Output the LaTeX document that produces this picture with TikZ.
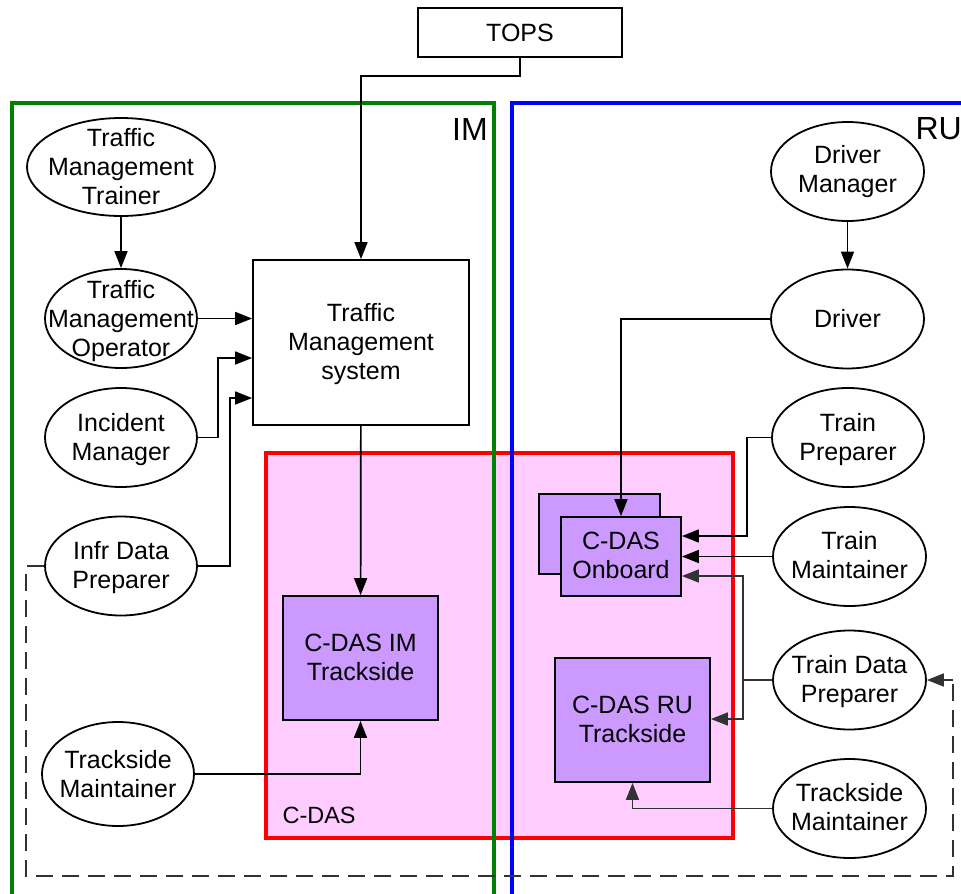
\documentclass[tikz,border=0pt]{standalone}
\usepackage{fontspec}
\setmainfont{Liberation Sans}
\usetikzlibrary{arrows.meta,shapes.geometric}
\definecolor{pinkfill}{RGB}{255,204,255}
\definecolor{purplefill}{RGB}{204,153,255}
\definecolor{imgreen}{RGB}{0,128,0}
\definecolor{darkline}{RGB}{50,50,50}
\tikzset{
  actor/.style={draw=black, line width=1.8pt, ellipse, minimum width=152pt, minimum height=99pt, inner sep=0pt, fill=white},
  txt/.style={align=center, inner sep=0pt},
  sysbox/.style={draw=black, line width=1.8pt, rectangle, inner sep=0pt, align=center},
  comp/.style={draw=black, line width=1.8pt, rectangle, inner sep=0pt, align=center, fill=purplefill},
  arr/.style={line width=1.7pt, -{Triangle[length=17pt,width=13pt]}},
  dashline/.style={line width=1.7pt, darkline, dash pattern=on 17pt off 9pt},
}
\begin{document}
\begin{tikzpicture}[x=1pt,y=-1pt,font=\fontsize{25}{29}\selectfont]
\useasboundingbox (0,0) rectangle (961,894);
\clip (0,0) rectangle (961,894);
\fill[white] (0,0) rectangle (961,894);
% C-DAS region
\draw[red, line width=3.5pt, fill=pinkfill] (266,453) rectangle (733,838);
\node[anchor=west, font=\fontsize{23.5}{27}\selectfont] (cdaslbl) at (279,815) {C-DAS};
% IM and RU regions
\draw[imgreen, line width=3.5pt] (12,910) -- (12,103) -- (494,103) -- (494,910);
\draw[blue, line width=3.5pt] (512,910) -- (512,103) -- (980,103);
\node[font=\fontsize{32}{36}\selectfont] (imlbl) at (470,129) {IM};
\node[anchor=west, font=\fontsize{32}{36}\selectfont] (rulbl) at (912,129) {RU};
% nodes
\node[sysbox, minimum width=204pt, minimum height=49pt] (tops) at (520,32.5) {TOPS};
\node[sysbox, minimum width=216pt, minimum height=165pt, fill=white] (tms) at (361,342.5) {};
\node[txt, yshift=-2pt] (tmstxt) at (tms.center) {Traffic\\Management\\system};
\node[actor, minimum width=188pt, minimum height=98pt] (tmt) at (121,167) {};
\node[txt] (tmttxt) at (tmt.center) {Traffic\\Management\\Trainer};
\node[actor] (tmo) at (121,318.5) {};
\node[txt, yshift=-3pt] (tmotxt) at (tmo.center) {Traffic\\Management\\Operator};
\node[actor] (im) at (121,437.5) {};
\node[txt, yshift=-2pt] (imtxt) at (im.center) {Incident\\Manager};
\node[actor] (idp) at (121,566) {};
\node[txt, yshift=-2pt] (idptxt) at (idp.center) {Infr Data\\Preparer};
\node[actor, minimum height=104pt] (tmim) at (118,774) {};
\node[txt] (tmimtxt) at (tmim.center) {Trackside\\Maintainer};
\node[comp, minimum width=155pt, minimum height=124pt] (cim) at (360.5,658) {};
\node[txt, yshift=1pt] (cimtxt) at (cim.center) {C-DAS IM\\Trackside};
\node[comp, minimum width=121pt, minimum height=80pt] (cobb) at (599.5,534) {};
\node[comp, minimum width=120pt, minimum height=79pt] (cob) at (621,556.5) {};
\node[txt, yshift=1pt] (cobtxt) at (cob.center) {C-DAS\\Onboard};
\node[comp, minimum width=155pt, minimum height=124pt] (cru) at (632.5,720) {};
\node[txt, yshift=1pt] (crutxt) at (cru.center) {C-DAS RU\\Trackside};
\node[actor, minimum width=153pt] (dm) at (847.5,171.5) {};
\node[txt] (dmtxt) at (dm.center) {Driver\\Manager};
\node[actor, minimum width=153pt] (drv) at (847.5,319) {};
\node[txt] (drvtxt) at (drv.center) {Driver};
\node[actor, minimum width=152pt] (tp) at (848,437.5) {};
\node[txt, yshift=-2pt] (tptxt) at (tp.center) {Train\\Preparer};
\node[actor, minimum width=153pt] (tm) at (849.5,556.5) {};
\node[txt, yshift=1pt] (tmtxt) at (tm.center) {Train\\Maintainer};
\node[actor, minimum width=153pt] (tdp) at (849.5,680) {};
\node[txt, yshift=-2pt] (tdptxt) at (tdp.center) {Train Data\\Preparer};
\node[actor, minimum width=153pt] (tmru) at (849.5,808.5) {};
\node[txt, yshift=1pt] (tmrutxt) at (tmru.center) {Trackside\\Maintainer};
% coordinates
\coordinate (t1) at (361,76);
\coordinate (b1) at (218,358);
\coordinate (b2) at (230,398);
\coordinate (b3) at (747,536);
\coordinate (b5) at (743,576);
\coordinate (b6) at (743,719);
\coordinate (d1) at (26,566);
\coordinate (d2) at (26,876);
\coordinate (d3) at (953,876);
\coordinate (d4) at (953,680);
% connectors
\draw[arr] (tops.south) |- (t1) -- (tms.north);
\draw[arr] (tmt) -- (tmo);
\draw[arr] (tmo.east) -- (tmo.east -| tms.west);
\draw[arr] (im.east) -| (b1) -- (b1 -| tms.west);
\draw[arr] (idp.east) -| (b2) -- (b2 -| tms.west);
\draw[arr] (tms) -- (cim);
\draw[arr] (tmim.east) -| (cim.south);
\draw[dashline] (idp.west) -- (d1) -- (d2) -- (d3) -- (d4);
\draw[arr, darkline] (d4) -- (tdp.east);
\draw[arr] (dm) -- (drv);
\draw[arr] (drv.west) -| (cob.north);
\draw[arr] (tp.west) -| (b3) -- (b3 -| cob.east);
\draw[arr] (tm.west) -- (tm.west -| cob.east);
\draw[arr, darkline] (tdp.west) -| (b5) -- (b5 -| cob.east);
\draw[arr, darkline] (tdp.west) -| (b6) -- (b6 -| cru.east);
\draw[arr, darkline] (tmru.west) -| (cru.south);
\end{tikzpicture}
\end{document}
